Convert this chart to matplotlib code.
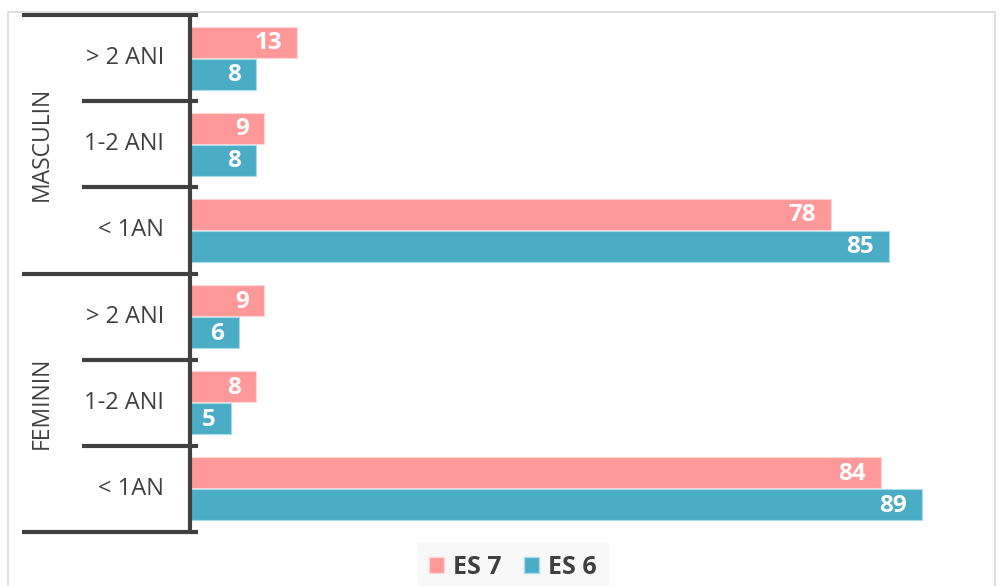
import matplotlib
matplotlib.use('Agg')
import matplotlib.pyplot as plt
import matplotlib.transforms as mtransforms
from matplotlib.patches import Rectangle, Patch

plt.rcParams['font.family'] = ['Open Sans', 'DejaVu Sans']

# data
groups = ['MASCULIN', 'FEMININ']
categories = ['> 2 ANI', '1-2 ANI', '< 1AN', '> 2 ANI', '1-2 ANI', '< 1AN']
es7 = [13, 9, 78, 9, 8, 84]
es6 = [8, 8, 85, 6, 5, 89]

pink = '#FF9999'
blue = '#4BACC6'
dark = '#404040'

W, H = 1001, 586
fig = plt.figure(figsize=(W / 100, H / 100), dpi=100)
ax = fig.add_axes([190 / W, 1 - 532 / H, 800 / W, (532 - 15) / H])

# outer chart frame
fig.patches.append(Rectangle((8 / W, -0.05), (995 - 8) / W, 1.05 - 12 / H,
                             transform=fig.transFigure, fill=False,
                             edgecolor='#d9d9d9', linewidth=1.2))

ys = list(range(len(categories)))
off = 0.185
h = 0.36
b7 = ax.barh([y - off for y in ys], es7, height=h, color=pink,
             edgecolor='#ffd6d6', linewidth=0.8)
b6 = ax.barh([y + off for y in ys], es6, height=h, color=blue,
             edgecolor='#a9dbe8', linewidth=0.8)

for bars, vals in [(b7, es7), (b6, es6)]:
    for bar, v in zip(bars, vals):
        ax.annotate(str(v), (bar.get_width(), bar.get_y() + bar.get_height() / 2),
                    xytext=(-15, -1), textcoords='offset pixels',
                    ha='right', va='center', color='white',
                    fontsize=17.5, fontweight='bold')

ax.set_xlim(0, 97.3)
ax.set_ylim(5.5, -0.5)
for s in ['top', 'right', 'bottom', 'left']:
    ax.spines[s].set_visible(False)
ax.set_xticks([])
ax.set_yticks([])

# category axis drawn by hand (multi-level)
tr = mtransforms.blended_transform_factory(fig.transFigure, ax.transData)
lw = 3
ax.plot([190 / W, 190 / W], [-0.5, 5.5], transform=tr, color=dark, lw=lw,
        clip_on=False, solid_capstyle='butt')
for y in [-0.5, 2.5, 5.5]:
    ax.plot([22 / W, 198 / W], [y, y], transform=tr, color=dark, lw=lw,
            clip_on=False, solid_capstyle='butt')
for y in [0.5, 1.5, 3.5, 4.5]:
    ax.plot([82 / W, 198 / W], [y, y], transform=tr, color=dark, lw=lw,
            clip_on=False, solid_capstyle='butt')

for y, c in zip(ys, categories):
    ax.text(164 / W, y, c, transform=tr, ha='right', va='center',
            color=dark, fontsize=17)
for i, g in enumerate(groups):
    ax.text(42 / W, 3 * i + 1, g, transform=tr, ha='center', va='center',
            rotation=90, color=dark, fontsize=16.5)

handles = [Patch(facecolor=pink, edgecolor='#ffd6d6', label='ES 7'),
           Patch(facecolor=blue, edgecolor='#a9dbe8', label='ES 6')]
leg = fig.legend(handles=handles, loc='center', ncol=2,
                 bbox_to_anchor=(513 / W, 1 - 567 / H), frameon=True,
                 fancybox=False, handlelength=0.6, handleheight=0.6,
                 handletextpad=0.35, columnspacing=0.9, borderpad=0.45,
                 borderaxespad=0, prop={'weight': 'bold', 'size': 18})
leg.get_frame().set_facecolor('#f7f7f7')
leg.get_frame().set_edgecolor('#f7f7f7')
for t in leg.get_texts():
    t.set_color(dark)

plt.savefig('out.png', dpi=100)
